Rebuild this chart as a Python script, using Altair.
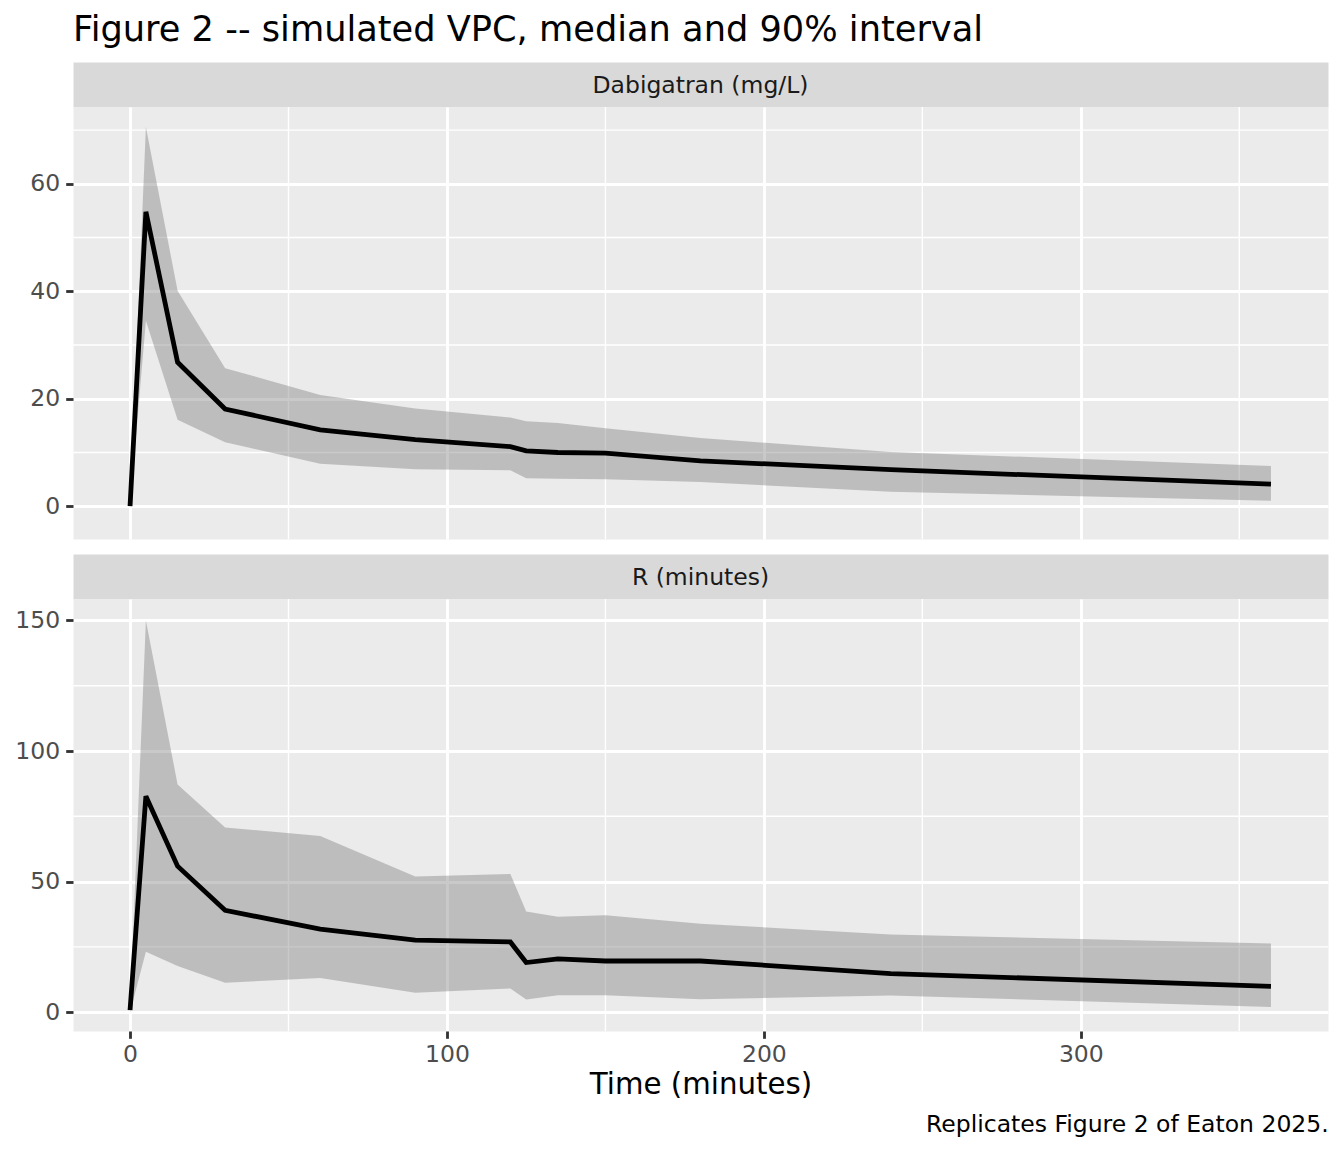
import altair as alt
import pandas as pd

# ---- data ----
time = [0, 5, 15, 30, 60, 90, 120, 125, 135, 150, 180, 240, 360]

dabi_median = [0, 54.8, 26.8, 18.1, 14.2, 12.4, 11.1, 10.3, 10.0, 9.9, 8.45, 6.8, 4.1]
dabi_lower = [0, 34.5, 16.1, 11.9, 7.9, 6.9, 6.7, 5.2, 5.1, 5.0, 4.5, 2.7, 1.0]
dabi_upper = [0, 70.6, 40.1, 25.7, 20.7, 18.2, 16.5, 15.8, 15.5, 14.5, 12.7, 10.1, 7.5]

r_median = [0.8, 82.7, 55.9, 39.0, 31.8, 27.6, 26.9, 19.0, 20.4, 19.6, 19.6, 14.8, 9.9]
r_lower = [0, 23.1, 17.7, 11.3, 13.1, 7.4, 9.1, 4.9, 6.5, 6.5, 5.0, 6.4, 2.0]
r_upper = [1.5, 150, 87.2, 70.7, 67.5, 52.0, 52.9, 38.6, 36.5, 37.1, 33.9, 29.7, 26.3]

panel_labels = ["Dabigatran (mg/L)", "R (minutes)"]

x_major = [0, 100, 200, 300]
x_minor = [50, 150, 250, 350]
top_y_major = [0, 20, 40, 60]
top_y_minor = [10, 30, 50, 70]
bot_y_major = [0, 50, 100, 150]
bot_y_minor = [25, 75, 125]

title_text = "Figure 2 -- simulated VPC, median and 90% interval"
caption_text = "Replicates Figure 2 of Eaton 2025."
x_title = "Time (minutes)"

# ---- layout constants ----
W = 1255
H = 432
SH = 45
FONT = "DejaVu Sans"
TICK_FS = 23.5
GRID_MAJ = 2.85
GRID_MIN = 1.4

x_scale = alt.Scale(domain=[-18, 378], nice=False, zero=False)


def make_panel(med, lo, hi, ydomain, ymajor, yminor, show_x):
    df = pd.DataFrame({"time": time, "median": med, "lo": lo, "hi": hi})
    y_scale = alt.Scale(domain=ydomain, nice=False, zero=False)
    if show_x:
        xaxis = alt.Axis(values=x_major, grid=True, gridColor="white", gridWidth=GRID_MAJ,
                         domain=False, ticks=True, tickColor="#333333", tickWidth=GRID_MAJ,
                         tickSize=7.3, labels=True, labelFontSize=TICK_FS, labelColor="#4D4D4D",
                         labelPadding=4, labelFont=FONT, title=x_title, titleFontSize=29.3,
                         titleFont=FONT, titleFontWeight="normal", titleColor="black",
                         titlePadding=5, format="d")
    else:
        xaxis = alt.Axis(values=x_major, grid=True, gridColor="white", gridWidth=GRID_MAJ,
                         domain=False, ticks=False, labels=False, title="")
    yaxis = alt.Axis(values=ymajor, grid=True, gridColor="white", gridWidth=GRID_MAJ,
                     domain=False, ticks=True, tickColor="#333333", tickWidth=GRID_MAJ,
                     tickSize=7.3, labelFontSize=TICK_FS, labelColor="#4D4D4D", labelFont=FONT,
                     labelPadding=6, title="", format="d")

    minor_x_rules = alt.Chart(pd.DataFrame({"v": x_minor})).mark_rule(
        color="white", strokeWidth=GRID_MIN
    ).encode(x=alt.X("v:Q", scale=x_scale, axis=xaxis))
    minor_y_rules = alt.Chart(pd.DataFrame({"v": yminor})).mark_rule(
        color="white", strokeWidth=GRID_MIN
    ).encode(y=alt.Y("v:Q", scale=y_scale, axis=yaxis))

    band = alt.Chart(df).mark_area(color="#7F7F7F", opacity=0.42).encode(
        x=alt.X("time:Q", scale=x_scale, axis=xaxis),
        y=alt.Y("lo:Q", scale=y_scale, axis=yaxis),
        y2="hi:Q",
    )
    line = alt.Chart(df).mark_line(color="black", strokeWidth=4.8).encode(
        x=alt.X("time:Q", scale=x_scale, axis=xaxis),
        y=alt.Y("median:Q", scale=y_scale, axis=yaxis),
    )
    return alt.layer(minor_x_rules, minor_y_rules, band, line)


def make_strip(label):
    return alt.Chart(pd.DataFrame({"label": [label]})).mark_text(
        fontSize=TICK_FS, color="#1A1A1A", font=FONT, baseline="middle", align="center"
    ).encode(
        text="label:N", x=alt.value(W / 2), y=alt.value(SH / 2 + 1)
    ).properties(width=W, height=SH, view=alt.ViewBackground(fill="#D9D9D9", stroke="transparent"))


def make_spacer(h):
    return alt.Chart(pd.DataFrame({"label": [""]})).mark_text().encode(
        text="label:N", x=alt.value(0), y=alt.value(0)
    ).properties(width=W, height=h, view=alt.ViewBackground(fill="transparent", stroke="transparent"))


top = make_panel(dabi_median, dabi_lower, dabi_upper, [-6.1, 74.3],
                 top_y_major, top_y_minor, False).properties(
    width=W, height=H, view=alt.ViewBackground(fill="#EBEBEB", stroke="transparent"))

bottom = make_panel(r_median, r_lower, r_upper, [-7.2, 158.2],
                    bot_y_major, bot_y_minor, True).properties(
    width=W, height=H, view=alt.ViewBackground(fill="#EBEBEB", stroke="transparent"),
    title=alt.TitleParams(caption_text, orient="bottom", anchor="end", fontSize=TICK_FS,
                          font=FONT, fontWeight="normal", color="black", offset=13,
                          baseline="top"))

chart = alt.vconcat(
    make_strip(panel_labels[0]), top, make_spacer(15), make_strip(panel_labels[1]), bottom,
    spacing=0, bounds="flush",
).properties(
    title=alt.TitleParams(title_text, anchor="start", fontSize=35.2, font=FONT,
                          fontWeight="normal", color="black", offset=-15,
                          baseline="alphabetic", frame="group"),
    padding={"left": 6, "top": 5, "right": 0, "bottom": 0},
).configure(font=FONT, background="white")

chart.save("out.html", embed_options={"renderer": "svg", "actions": False})
